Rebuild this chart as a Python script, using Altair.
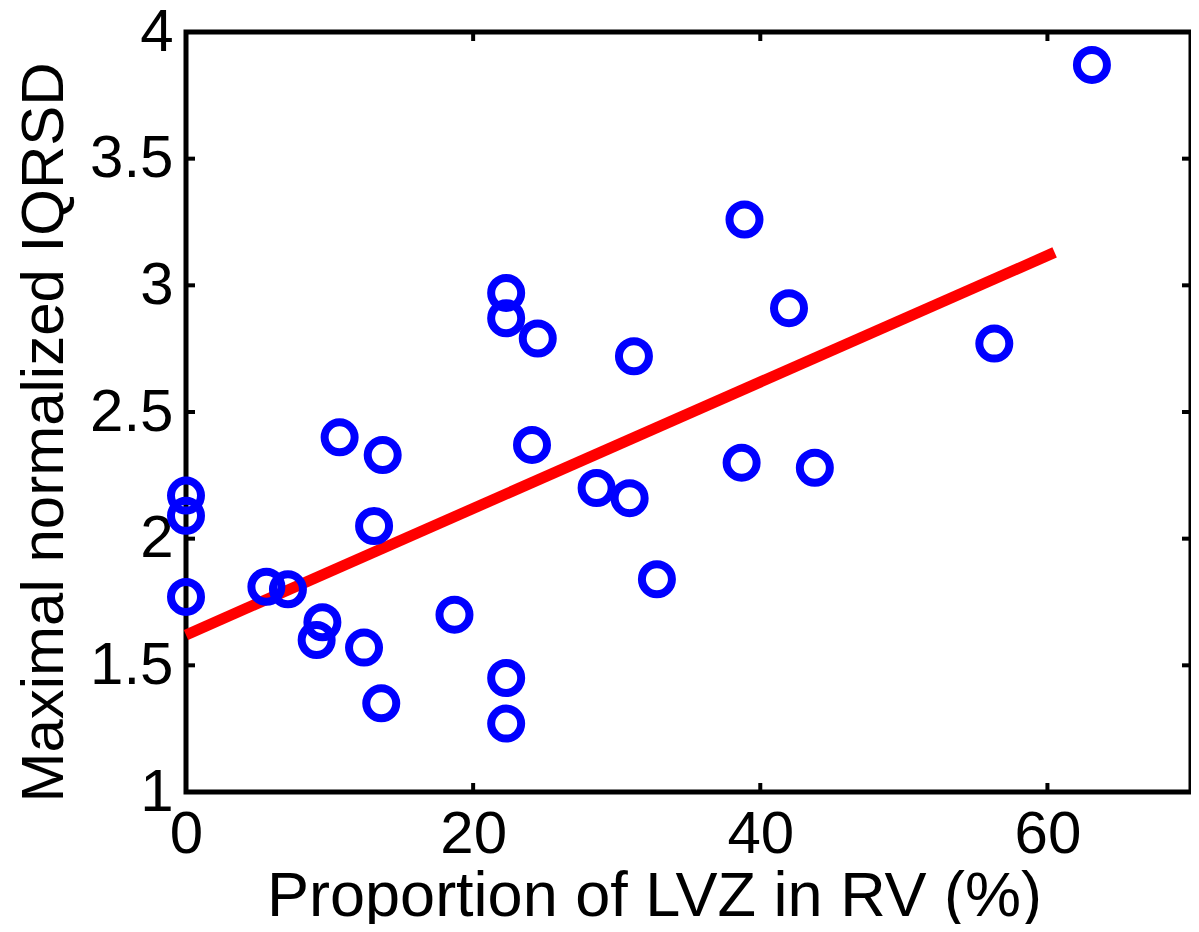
import altair as alt
import pandas as pd

# scatter points: proportion of LVZ in RV (%) vs maximal normalized IQRSD
px = [63.1, 38.9, 22.3, 22.3, 24.5, 42.0, 31.2, 56.3, 10.7, 13.7,
      24.1, 38.7, 43.8, 28.6, 30.9, 0.0, 0.0, 13.1, 0.0, 5.6,
      7.1, 32.8, 18.7, 9.5, 9.1, 12.4, 13.6, 22.3, 22.3]
py = [3.87, 3.26, 2.97, 2.87, 2.79, 2.91, 2.72, 2.77, 2.40, 2.33,
      2.37, 2.30, 2.28, 2.20, 2.16, 2.17, 2.09, 2.05, 1.77, 1.81,
      1.80, 1.84, 1.70, 1.67, 1.60, 1.57, 1.35, 1.45, 1.27]

# regression line endpoints
fit_x = [0.0, 60.5]
fit_y = [1.62, 3.13]

x_ticks = [0, 20, 40, 60]
y_ticks = [1, 1.5, 2, 2.5, 3, 3.5, 4]

W, H = 1005, 760
FONT = "Liberation Sans"

pts = pd.DataFrame({"x": px, "y": py})
fit = pd.DataFrame({"x": fit_x, "y": fit_y})
xt = pd.DataFrame({"x": x_ticks})
yt = pd.DataFrame({"y": y_ticks})

xs = alt.Scale(domain=[0, 70], nice=False, zero=False)
ys = alt.Scale(domain=[1, 4], nice=False, zero=False)

xaxis = alt.Axis(values=x_ticks, title="Proportion of LVZ in RV (%)",
                 labelFlush=False, titleFontSize=63,
                 titleX=468, titleAlign="center", titleBaseline="alphabetic",
                 titleY=123)
yaxis = alt.Axis(values=y_ticks, format="~g", title="Maximal normalized IQRSD",
                 labelFlush=False,
                 titleX=-124, titleY=400, titleAlign="center",
                 titleBaseline="alphabetic", titleAngle=-90)

line = alt.Chart(fit).mark_line(color="#FF0000", strokeWidth=11).encode(
    x=alt.X("x:Q", scale=xs, axis=xaxis),
    y=alt.Y("y:Q", scale=ys, axis=yaxis),
)

points = alt.Chart(pts).mark_point(shape="circle", filled=False, color="#0000FF",
                                   strokeWidth=8, size=900, opacity=1).encode(
    x=alt.X("x:Q", scale=xs),
    y=alt.Y("y:Q", scale=ys),
)

tick_b = alt.Chart(xt).mark_rule(color="black", strokeWidth=4).encode(
    x=alt.X("x:Q", scale=xs), y=alt.value(H), y2=alt.value(H - 9))
tick_t = alt.Chart(xt).mark_rule(color="black", strokeWidth=4).encode(
    x=alt.X("x:Q", scale=xs), y=alt.value(0), y2=alt.value(9))
tick_l = alt.Chart(yt).mark_rule(color="black", strokeWidth=4).encode(
    y=alt.Y("y:Q", scale=ys), x=alt.value(0), x2=alt.value(9))
tick_r = alt.Chart(yt).mark_rule(color="black", strokeWidth=4).encode(
    y=alt.Y("y:Q", scale=ys), x=alt.value(W), x2=alt.value(W - 9))

chart = alt.layer(line, points, tick_b, tick_t, tick_l, tick_r).properties(
    width=W, height=H,
    autosize=alt.AutoSizeParams(type="none"),
    padding={"left": 178, "top": 24, "right": 0, "bottom": 132},
    background="white",
).configure_view(
    stroke="black", strokeWidth=5
).configure_axis(
    grid=False, ticks=False, tickSize=0, domain=False,
    labelFont=FONT, titleFont=FONT, labelFontSize=60, titleFontSize=60,
    labelColor="black", titleColor="black", titleFontWeight="normal",
    labelPadding=13,
)

chart.save("out.html", embed_options={"renderer": "svg", "actions": False})
